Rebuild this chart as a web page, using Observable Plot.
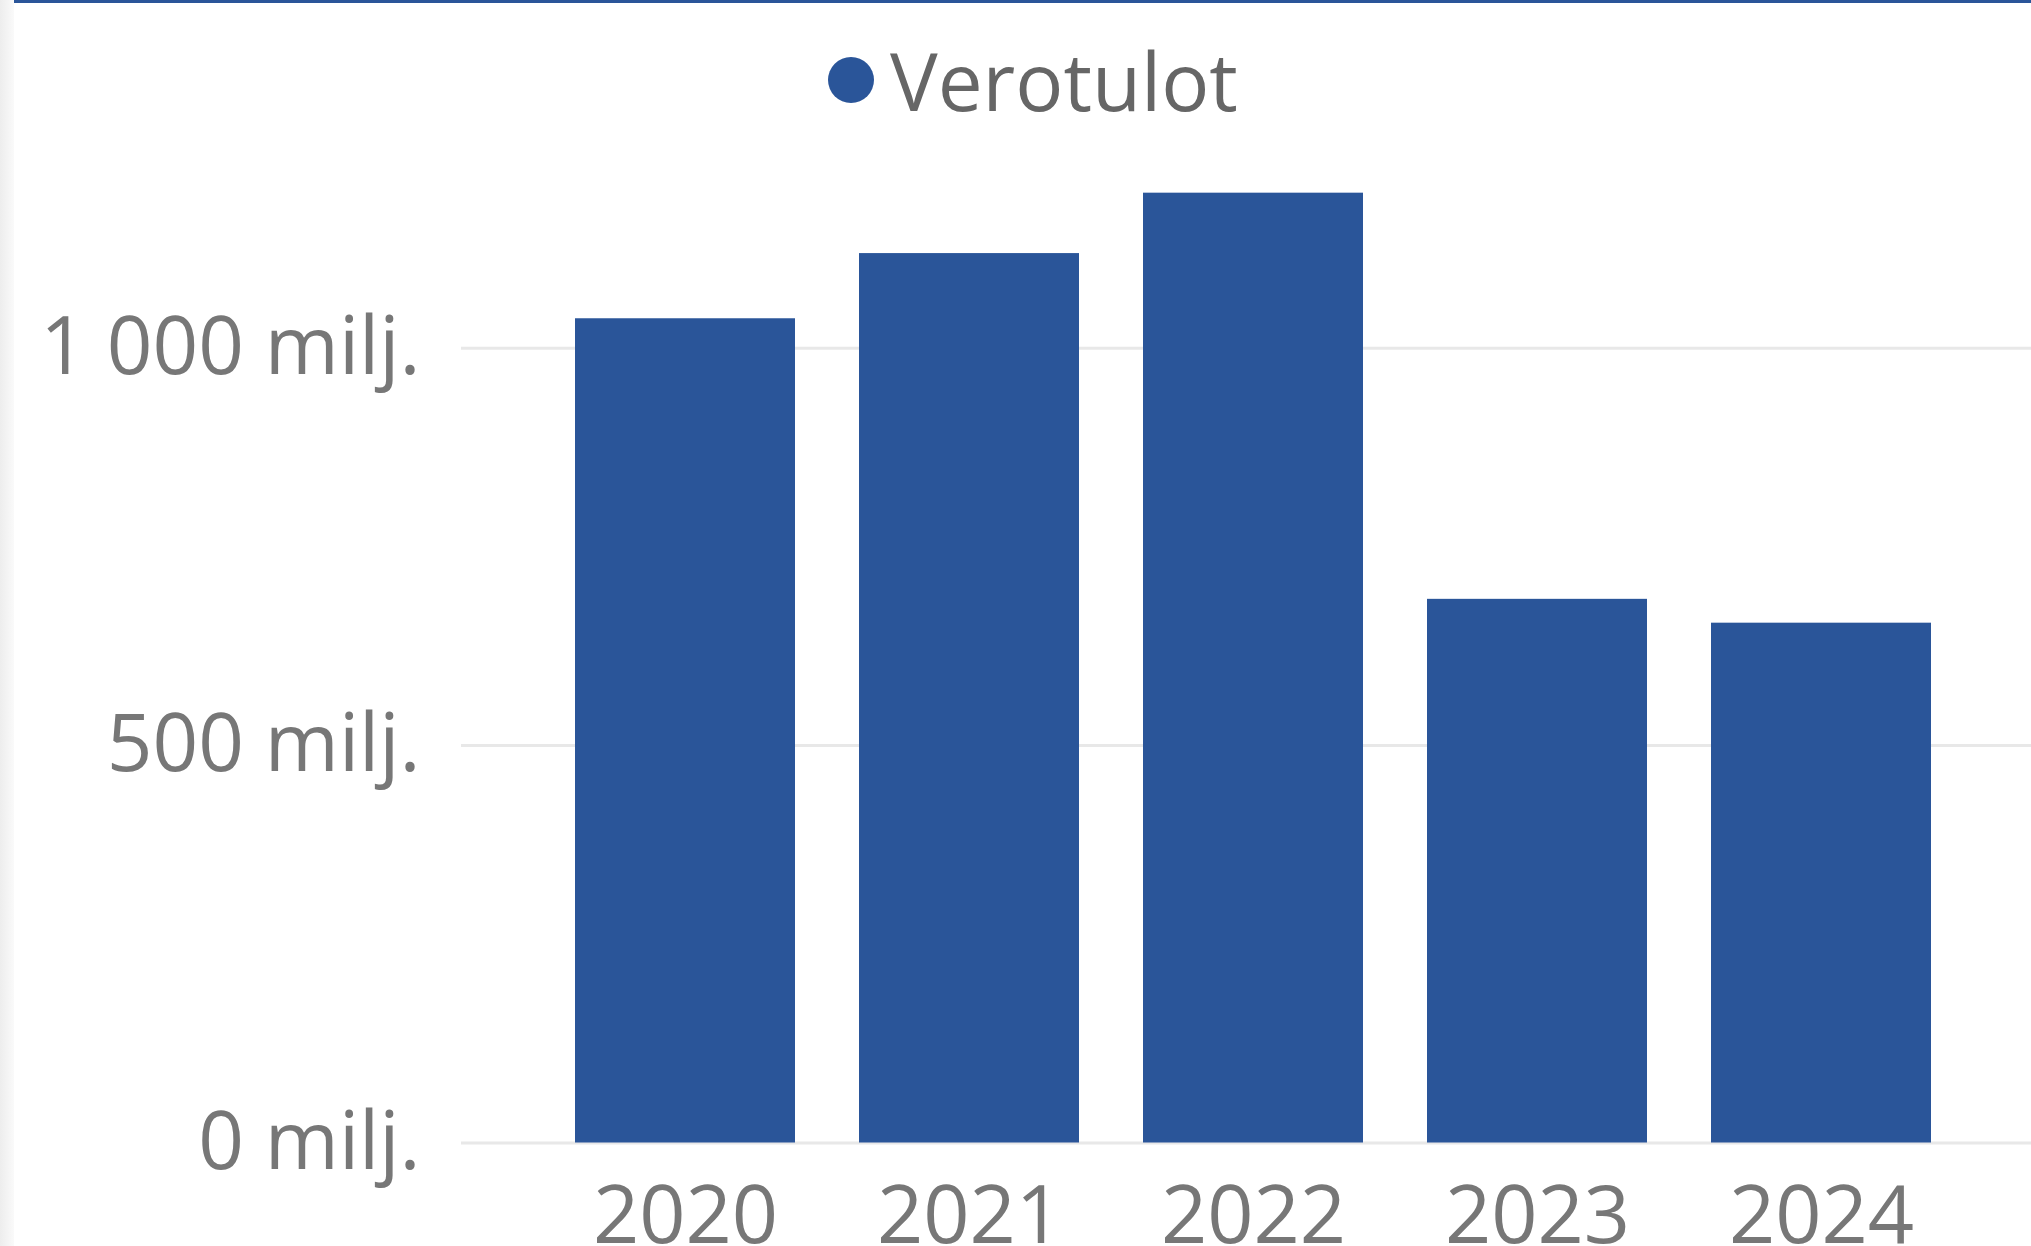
<!DOCTYPE html>
<html>
<head>
<meta charset="utf-8">
<script src="https://cdn.jsdelivr.net/npm/d3@7"></script>
<script src="https://cdn.jsdelivr.net/npm/@observablehq/plot@0.6"></script>
<style>
  html, body { margin: 0; padding: 0; background: #fff; width: 2031px; height: 1246px; overflow: hidden; }
  #page { position: relative; width: 2031px; height: 1246px; font-family: "Open Sans", "Noto Sans", sans-serif; }
  #leftstrip { position: absolute; left: 0; top: 0; width: 14px; height: 1246px; background: linear-gradient(to right, #ededed, #fafafa); }
  #topbar { position: absolute; left: 14px; top: 0; right: 0; height: 3px; background: #2a5599; }
  #legend { position: absolute; left: 828px; top: 30px; height: 100px; display: flex; align-items: center; color: #666; font-size: 80px; line-height: 1; }
  #legend .dot { width: 46px; height: 46px; border-radius: 50%; background: #2a5599; margin-right: 16px; flex: none; }
  #chart { position: absolute; left: 0; top: 160px; }
</style>
</head>
<body>
<div id="page">
  <div id="leftstrip"></div>
  <div id="topbar"></div>
  <div id="legend"><span class="dot"></span><span>Verotulot</span></div>
  <div id="chart"></div>
</div>
<script>
const years = ["2020", "2021", "2022", "2023", "2024"];
const verotulot = [1037, 1119, 1195, 684, 654];
const yTicks = [0, 500, 1000];
const seriesName = "Verotulot";

const data = years.map((y, i) => ({year: y, value: verotulot[i]}));
const fmt = d => (d === 0 ? "0" : d3.format(",")(d).replace(/,/g, " ")) + " milj.";

const chart = Plot.plot({
  width: 2031,
  height: 1086,
  marginLeft: 461,
  marginRight: 0,
  marginTop: 28.7,
  marginBottom: 103.5,
  style: {fontFamily: "'Open Sans', 'Noto Sans', sans-serif", background: "transparent", overflow: "visible"},
  x: {domain: years, paddingInner: 0.225, paddingOuter: 0.376, align: 0.533, label: null},
  y: {domain: [0, 1200], label: null},
  marks: [
    Plot.ruleY(yTicks, {stroke: "#e8e8e8", strokeWidth: 3}),
    Plot.barY(data, {x: "year", y: "value", fill: "#2a5599"}),
    Plot.axisY(yTicks, {tickSize: 0, tickPadding: 41, tickFormat: fmt, fontSize: 80, fill: "#777", label: null}),
    Plot.axisX({tickSize: 0, tickPadding: 42, fontSize: 81, fill: "#777", label: null})
  ]
});
document.getElementById("chart").appendChild(chart);
</script>
</body>
</html>
